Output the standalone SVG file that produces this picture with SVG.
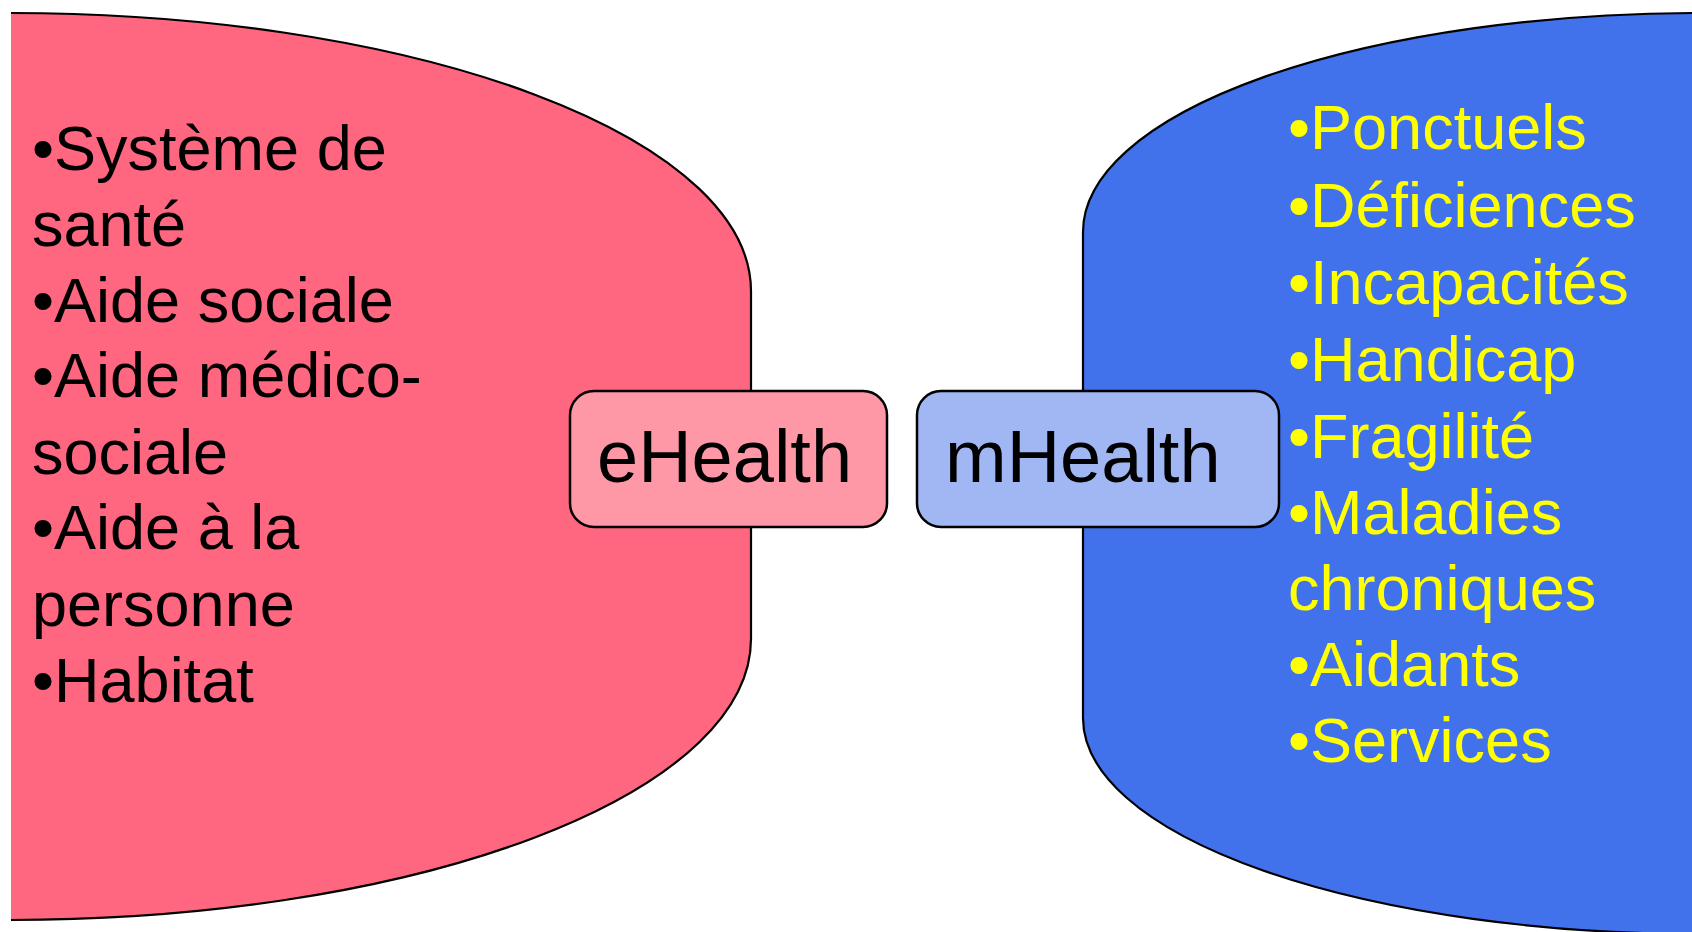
<svg xmlns="http://www.w3.org/2000/svg" width="1692" height="932" viewBox="0 0 1692 932">
<style>
.line{fill:none;stroke:#000;stroke-width:2.2}
.box{stroke:#000;stroke-width:2.5}
.t{font-family:"Liberation Sans",Arial,sans-serif;font-size:63px}
.bt{font-family:"Liberation Sans",Arial,sans-serif;font-size:74px;fill:#000}
</style>
<rect width="1692" height="932" fill="#fff"/>
<g id="left-shape">
<path fill="#FF667F" d="M11,13 A740,278 0 0 1 751,291 L751,639 A740,281 0 0 1 11,920 Z"/>
<path class="line" d="M11,13 A740,278 0 0 1 751,291 L751,639 A740,281 0 0 1 11,920"/>
<text class="t" fill="#000">
<tspan x="32" y="170">•Système de</tspan>
<tspan x="32" y="246">santé</tspan>
<tspan x="32" y="322">•Aide sociale</tspan>
<tspan x="32" y="397">•Aide médico-</tspan>
<tspan x="32" y="474">sociale</tspan>
<tspan x="32" y="549">•Aide à la</tspan>
<tspan x="32" y="626">personne</tspan>
<tspan x="32" y="702">•Habitat</tspan>
</text>
</g>
<g id="right-shape">
<path fill="#4271EC" class="line" style="fill:#4271EC" d="M1720,13 L1700,13 A617,219 0 0 0 1083,232 L1083,718 A617,216 0 0 0 1700,934 L1720,934 Z"/>
<text class="t" fill="#FFFF00">
<tspan x="1288" y="149">•Ponctuels</tspan>
<tspan x="1288" y="227">•Déficiences</tspan>
<tspan x="1288" y="304">•Incapacités</tspan>
<tspan x="1288" y="381">•Handicap</tspan>
<tspan x="1288" y="458">•Fragilité</tspan>
<tspan x="1288" y="534">•Maladies</tspan>
<tspan x="1288" y="610">chroniques</tspan>
<tspan x="1288" y="686">•Aidants</tspan>
<tspan x="1288" y="762">•Services</tspan>
</text>
</g>
<g id="connectors"></g>
<g id="ehealth">
<rect class="box" x="570" y="391" width="317" height="136" rx="24" ry="24" fill="#FF98A6"/>
<text class="bt" x="597" y="482">eHealth</text>
</g>
<g id="mhealth">
<rect class="box" x="917" y="391" width="362" height="136" rx="24" ry="24" fill="#A0B7F4"/>
<text class="bt" x="945" y="482">mHealth</text>
</g>
</svg>
